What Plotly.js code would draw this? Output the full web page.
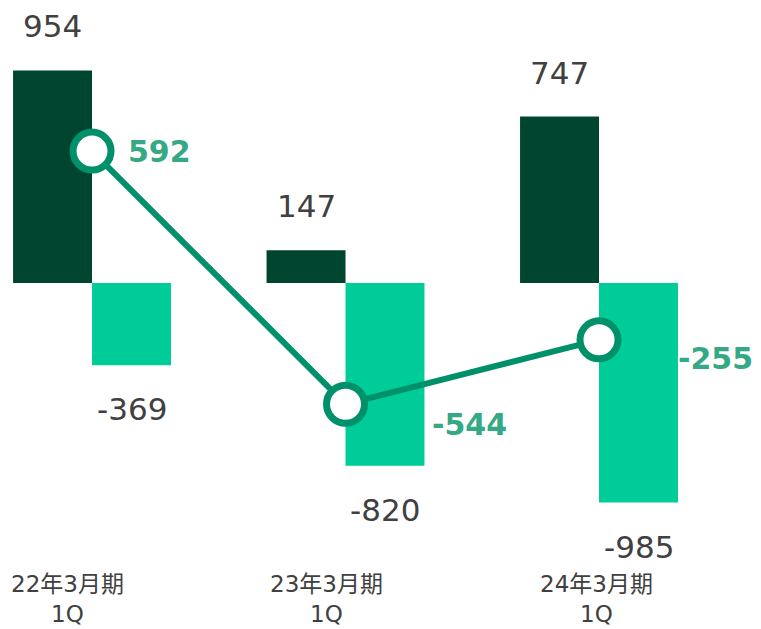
<!DOCTYPE html>
<html>
<head>
<meta charset="utf-8">
<script src="https://cdn.plot.ly/plotly-3.0.1.min.js"></script>
<style>html,body{margin:0;padding:0;background:#fff;}#chart{width:761px;height:629px;}</style>
</head>
<body>
<div id="chart"></div>
<script>
// ---- data ----
const categories = ["22年3月期 1Q", "23年3月期 1Q", "24年3月期 1Q"];
const categoryLabels = ["22年3月期<br>1Q", "23年3月期<br>1Q", "24年3月期<br>1Q"];
const positiveValues = [954, 147, 747];
const negativeValues = [-369, -820, -985];
const netValues = [592, -544, -255];

// ---- styles ----
const darkGreen = "#00452f";
const lightGreen = "#00cc99";
const lineGreen = "#00916a";
const netLabelColor = "#35a886";
const textGray = "#404040";
const fontFam = "DejaVu Sans, Noto Sans CJK JP, sans-serif";
const halfBar = 39.5;
const barLabelShift = 44;
const netShifts = [[34, 0], [84, -20], [77, -19]];
const catLabelShifts = [-25, -19, -3];

const traces = [
  {type: "bar", x: categories, y: positiveValues, marker: {color: darkGreen}, hoverinfo: "none"},
  {type: "bar", x: categories, y: negativeValues, marker: {color: lightGreen}, hoverinfo: "none"},
  {type: "scatter", mode: "lines+markers", x: categories, y: netValues,
   line: {color: lineGreen, width: 6},
   marker: {size: 38, color: "#ffffff", line: {color: lineGreen, width: 7}},
   hoverinfo: "none", cliponaxis: false}
];

const annotations = [];
categories.forEach((c, i) => {
  annotations.push({x: c, y: positiveValues[i], xref: "x", yref: "y", text: String(positiveValues[i]),
    showarrow: false, xshift: -halfBar, yshift: barLabelShift, xanchor: "center", yanchor: "middle",
    font: {family: fontFam, size: 31, color: textGray}});
  annotations.push({x: c, y: negativeValues[i], xref: "x", yref: "y", text: String(negativeValues[i]),
    showarrow: false, xshift: halfBar, yshift: -barLabelShift, xanchor: "center", yanchor: "middle",
    font: {family: fontFam, size: 31, color: textGray}});
  annotations.push({x: c, y: netValues[i], xref: "x", yref: "y", text: "<b>" + netValues[i] + "</b>",
    showarrow: false, xshift: netShifts[i][0], yshift: netShifts[i][1], xanchor: "left", yanchor: "middle",
    font: {family: fontFam, size: 30, color: netLabelColor}});
  annotations.push({x: c, y: 0, xref: "x", yref: "paper", text: categoryLabels[i],
    showarrow: false, xshift: catLabelShifts[i], yshift: -9, xanchor: "center", yanchor: "top",
    font: {family: fontFam, size: 23, color: textGray}});
});

const layout = {
  width: 761, height: 629,
  margin: {l: 0, r: 0, t: 0, b: 69, pad: 0},
  paper_bgcolor: "#ffffff", plot_bgcolor: "#ffffff",
  showlegend: false,
  barmode: "group", bargap: 0.377, bargroupgap: 0,
  xaxis: {type: "category", range: [-0.363, 2.639], showticklabels: false, showgrid: false,
          zeroline: false, showline: false, ticks: ""},
  yaxis: {range: [-1243, 1270], visible: false, showgrid: false, zeroline: false},
  annotations: annotations
};

Plotly.newPlot("chart", traces, layout, {displayModeBar: false, staticPlot: true});
</script>
</body>
</html>
